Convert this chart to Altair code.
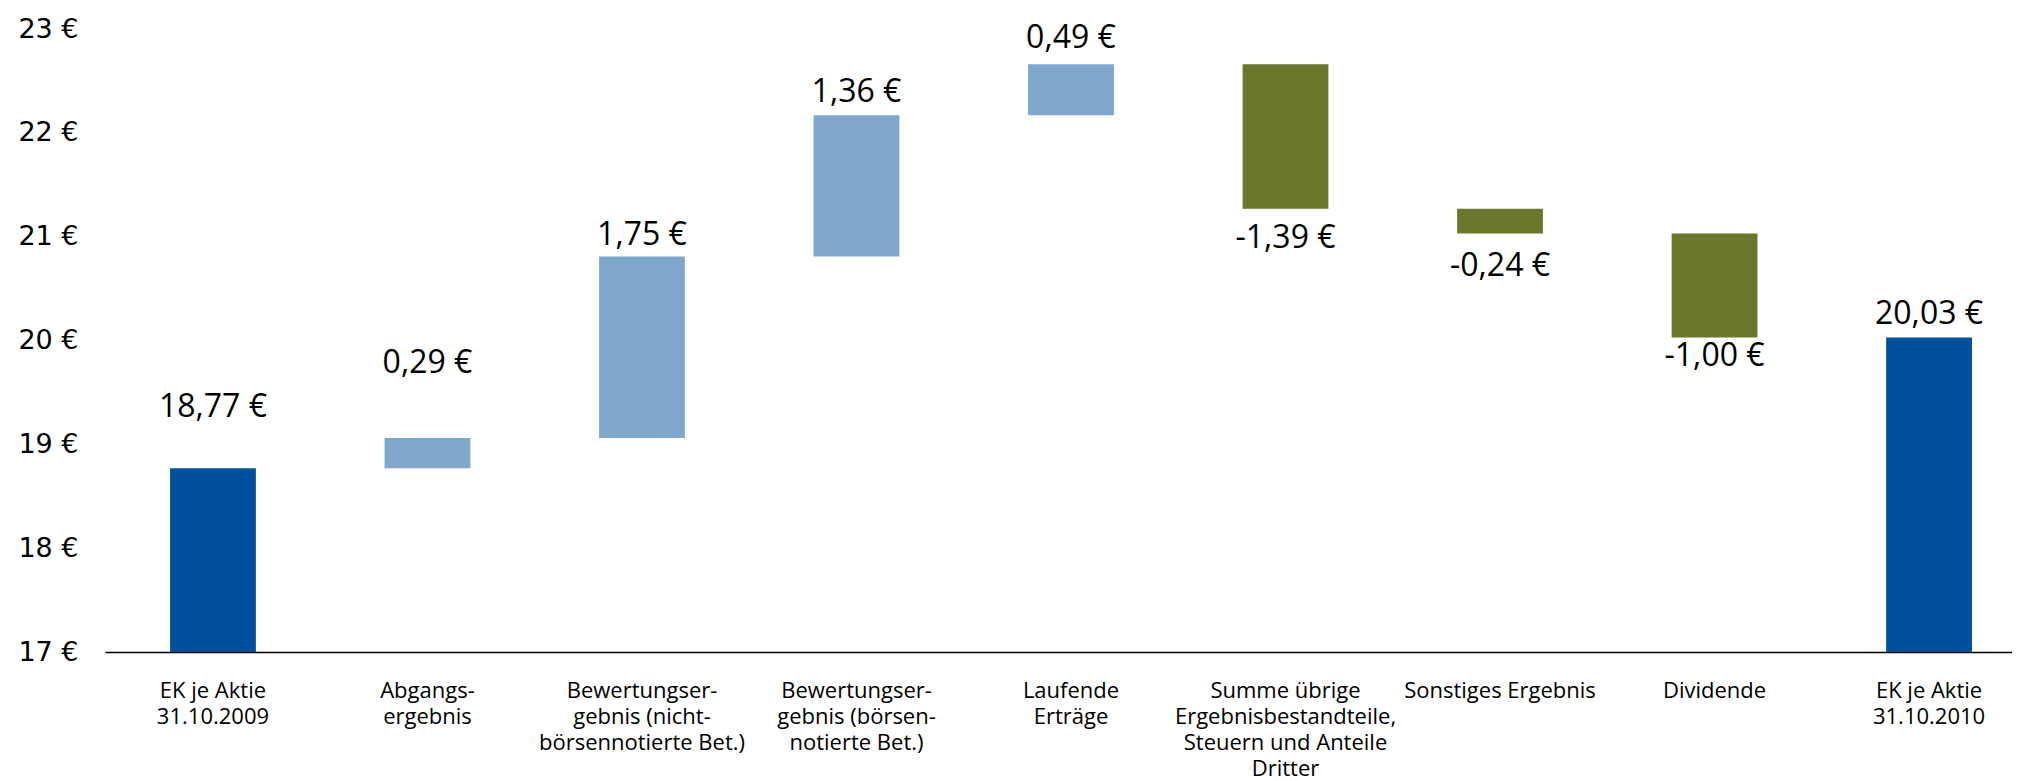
import altair as alt
import pandas as pd

categories = [
    "EK je Aktie\n31.10.2009",
    "Abgangs-\nergebnis",
    "Bewertungser-\ngebnis (nicht-\nbörsennotierte Bet.)",
    "Bewertungser-\ngebnis (börsen-\nnotierte Bet.)",
    "Laufende\nErträge",
    "Summe übrige\nErgebnisbestandteile,\nSteuern und Anteile\nDritter",
    "Sonstiges Ergebnis",
    "Dividende",
    "EK je Aktie\n31.10.2010",
]
bar_start = [17.00, 18.77, 19.06, 20.81, 22.17, 22.66, 21.27, 21.03, 17.00]
bar_end = [18.77, 19.06, 20.81, 22.17, 22.66, 21.27, 21.03, 20.03, 20.03]
value_labels = ["18,77 €", "0,29 €", "1,75 €", "1,36 €", "0,49 €",
                "-1,39 €", "-0,24 €", "-1,00 €", "20,03 €"]
label_at = [19.36, 19.78, 21.02, 22.39, 22.91, 20.99, 20.72, 19.85, 20.26]
kind = ["total", "plus", "plus", "plus", "plus", "minus", "minus", "minus", "total"]

df = pd.DataFrame({
    "cat": categories,
    "start": bar_start,
    "end": bar_end,
    "label": value_labels,
    "label_at": label_at,
    "kind": kind,
})

xscale = alt.Scale(paddingInner=0.6, paddingOuter=0.245, align=0.619)
yscale = alt.Scale(domain=[17, 23], nice=False, zero=False)

x_enc = alt.X(
    "cat:N", sort=categories, scale=xscale, title=None,
    axis=alt.Axis(
        labelExpr="split(datum.label, '\\n')",
        labelAngle=0, ticks=False, domain=True, domainColor="#000000",
        domainWidth=1.5, labelFont="Open Sans", labelFontSize=22,
        labelColor="#000000", labelPadding=28, labelLineHeight=26,
        labelBaseline="top", labelLimit=0, labelOverlap=False, labelBound=False,
        grid=False,
    ),
)

bars = alt.Chart(df).mark_bar().encode(
    x=x_enc,
    y=alt.Y("start:Q", scale=yscale, title=None,
            axis=alt.Axis(values=[17, 18, 19, 20, 21, 22, 23],
                          labelExpr="datum.value + ' €'", grid=False,
                          domain=False, ticks=False, labelPadding=27,
                          labelFont="DejaVu Sans", labelFontSize=27,
                          labelColor="#000000")),
    y2="end:Q",
    color=alt.Color("kind:N",
                    scale=alt.Scale(domain=["total", "plus", "minus"],
                                    range=["#00509B", "#7FA7CC", "#6B772C"]),
                    legend=None),
)

texts = alt.Chart(df).mark_text(
    font="Open Sans", fontSize=32, color="#000000", align="center", baseline="middle"
).encode(
    x=alt.X("cat:N", sort=categories, scale=xscale),
    y=alt.Y("label_at:Q", scale=yscale),
    text="label:N",
)

chart = alt.layer(bars, texts).properties(
    width=1907, height=623,
    autosize=alt.AutoSizeParams(type="none"),
    padding={"left": 97, "top": 21, "right": 0, "bottom": 127},
).configure(background="#ffffff").configure_view(stroke="transparent", strokeWidth=0)

chart.save("out.html", embed_options={"renderer": "svg", "actions": False})
